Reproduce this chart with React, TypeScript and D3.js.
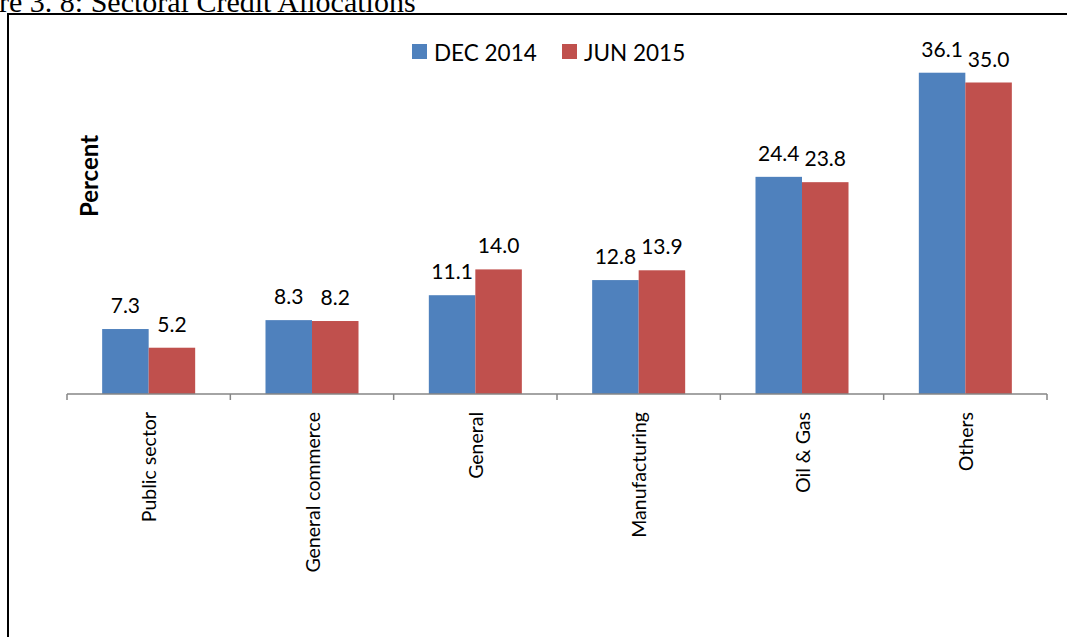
import { useEffect, useRef } from "react";
import * as d3 from "d3";

const CATEGORIES = ["Public sector", "General commerce", "General", "Manufacturing", "Oil & Gas", "Others"];
const SERIES = ["DEC 2014", "JUN 2015"];
const DEC_2014 = [7.3, 8.3, 11.1, 12.8, 24.4, 36.1];
const JUN_2015 = [5.2, 8.2, 14.0, 13.9, 23.8, 35.0];

const COLORS: Record<string, string> = {
  "DEC 2014": "#4f81bd",
  "JUN 2015": "#c0504d",
};

const FONT = "Lato, 'Open Sans', sans-serif";
const W = 1067;
const H = 637;

export default function App() {
  const svgRef = useRef<SVGSVGElement>(null);

  useEffect(() => {
    if (!svgRef.current) return;
    const svg = d3.select(svgRef.current);
    svg.selectAll("*").remove();

    const rows = CATEGORIES.map((c, i) => ({
      category: c,
      values: [
        { series: SERIES[0], value: DEC_2014[i] },
        { series: SERIES[1], value: JUN_2015[i] },
      ],
    }));

    // plot area roughly as in the Excel original
    const left = 67;
    const right = 1047;
    const baseline = 394;

    const x0 = d3.scaleBand().domain(CATEGORIES).range([left, right]).padding(0);
    const x1 = d3.scaleBand().domain(SERIES).range([0, x0.bandwidth()]).paddingInner(0).paddingOuter(0.756);
    const y = d3.scaleLinear().domain([0, 40]).range([baseline, 38]);

    svg.append("rect").attr("width", W).attr("height", H).attr("fill", "#fff");

    // caption, cut off by the page edge like in the source
    svg.append("text")
      .attr("x", -1).attr("y", 12)
      .attr("font-family", "'Liberation Serif', 'Times New Roman', serif")
      .attr("font-size", "30px").attr("fill", "#000")
      .text("re 3. 8: Sectoral Credit Allocations");

    // chart frame
    svg.append("rect")
      .attr("x", 8).attr("y", 14).attr("width", W + 10).attr("height", H)
      .attr("fill", "none").attr("stroke", "#000").attr("stroke-width", 2);

    // bars
    const groups = svg.selectAll("g.cat")
      .data(rows)
      .enter()
      .append("g")
      .attr("class", "cat")
      .attr("transform", (d) => `translate(${x0(d.category)},0)`);

    groups.selectAll("rect")
      .data((d) => d.values)
      .enter()
      .append("rect")
      .attr("x", (d) => x1(d.series)!)
      .attr("y", (d) => y(d.value))
      .attr("width", x1.bandwidth())
      .attr("height", (d) => baseline - y(d.value))
      .attr("fill", (d) => COLORS[d.series]);

    groups.selectAll("text.val")
      .data((d) => d.values)
      .enter()
      .append("text")
      .attr("class", "val")
      .attr("x", (d) => x1(d.series)! + x1.bandwidth() / 2)
      .attr("y", (d) => y(d.value) - 16)
      .attr("text-anchor", "middle")
      .attr("font-family", FONT).attr("font-size", "21px").attr("fill", "#000")
      .text((d) => d.value.toFixed(1));

    // category axis
    const axis = svg.append("g").attr("transform", `translate(0,${baseline})`);
    axis.append("line")
      .attr("x1", left).attr("x2", right)
      .attr("stroke", "#868686").attr("stroke-width", 1.5);
    const edges = [...CATEGORIES.map((c) => x0(c)!), right];
    axis.selectAll("line.tick")
      .data(edges)
      .enter()
      .append("line")
      .attr("class", "tick")
      .attr("x1", (d) => d).attr("x2", (d) => d)
      .attr("y1", 0).attr("y2", 6)
      .attr("stroke", "#868686").attr("stroke-width", 1.5);
    axis.selectAll("text.cat")
      .data(CATEGORIES)
      .enter()
      .append("text")
      .attr("class", "cat")
      .attr("transform", (d) => `translate(${x0(d)! + x0.bandwidth() / 2},18) rotate(-90)`)
      .attr("text-anchor", "end")
      .attr("dominant-baseline", "central")
      .attr("font-family", FONT).attr("font-size", "19.5px").attr("fill", "#000")
      .text((d) => d);

    // y axis title
    svg.append("text")
      .attr("transform", `translate(88,176) rotate(-90)`)
      .attr("text-anchor", "middle")
      .attr("dominant-baseline", "central")
      .attr("font-family", FONT).attr("font-size", "24px").attr("font-weight", "700").attr("fill", "#000")
      .text("Percent");

    // legend
    const legendX = [412, 562];
    const legend = svg.selectAll("g.leg")
      .data(SERIES)
      .enter()
      .append("g")
      .attr("class", "leg")
      .attr("transform", (_d, i) => `translate(${legendX[i]},44)`);
    legend.append("rect").attr("width", 15).attr("height", 15).attr("fill", (d) => COLORS[d]);
    legend.append("text")
      .attr("x", 22).attr("y", 8)
      .attr("dominant-baseline", "central")
      .attr("font-family", FONT).attr("font-size", "22.5px").attr("fill", "#000")
      .text((d) => d);
  }, []);

  return (
    <div style={{ position: "absolute", left: 0, top: 0, width: W, height: H, overflow: "hidden" }}>
      <svg ref={svgRef} width={W} height={H} style={{ display: "block" }} />
    </div>
  );
}
